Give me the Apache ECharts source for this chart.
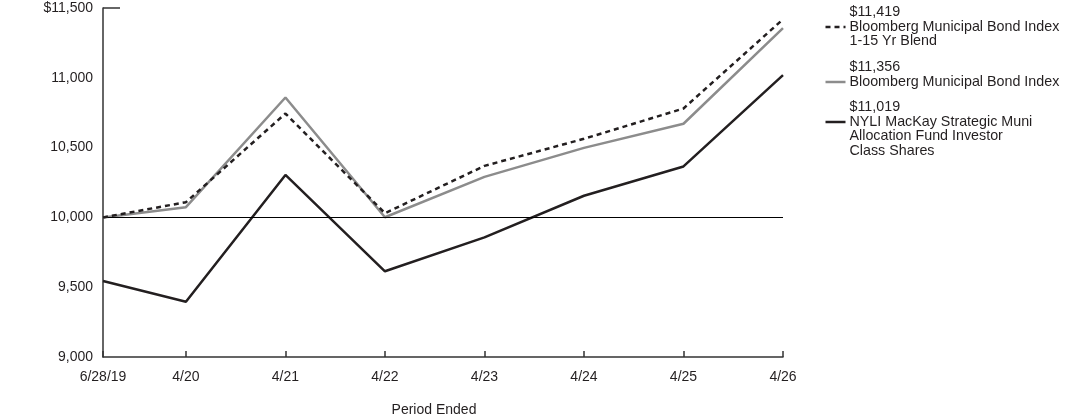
<!DOCTYPE html>
<html>
<head>
<meta charset="utf-8">
<script src="https://cdn.jsdelivr.net/npm/echarts@6/dist/echarts.min.js"></script>
<style>
  html, body { margin: 0; padding: 0; background: #fff; }
  #main { width: 1092px; height: 417px; }
</style>
</head>
<body>
<div id="main"></div>
<script>
// months since 6/28/19 for each period end
const months = [0, 10, 22, 34, 46, 58, 70, 82];
const tickLabels = ["6/28/19", "4/20", "4/21", "4/22", "4/23", "4/24", "4/25", "4/26"];

const blendValues = [10000, 10109, 10744, 10030, 10369, 10563, 10780, 11419];
const muniValues = [10000, 10073, 10859, 10001, 10290, 10498, 10671, 11356];
const fundValues = [9545, 9396, 10304, 9614, 9857, 10155, 10365, 11019];

const names = [
  "Bloomberg Municipal Bond Index\n1-15 Yr Blend",
  "Bloomberg Municipal Bond Index",
  "NYLI MacKay Strategic Muni\nAllocation Fund Investor\nClass Shares",
];
const endValues = ["$11,419", "$11,356", "$11,019"];

const chart = echarts.init(document.getElementById("main"));
const font = "Liberation Sans, Arial, sans-serif";
const txt = "#231f20";

function pairs(vals) {
  return vals.map((v, i) => [months[i], v]);
}

// legend drawn by hand so the swatch sits on the first name line
function legendItem(top, dashed, color, value, name) {
  return {
    type: "group",
    left: 823,
    top: top,
    children: [
      {
        type: "line",
        shape: { x1: 0, y1: 22, x2: 20, y2: 22 },
        style: { stroke: color, lineWidth: 2.5, lineDash: dashed ? [5, 4] : null },
      },
      {
        type: "text",
        left: 24,
        top: 0,
        style: {
          text: value + "\n" + name,
          font: "14.3px " + font,
          fill: txt,
          lineHeight: 14.5,
        },
      },
    ],
  };
}

const option = {
  animation: false,
  grid: { left: 103, right: 309, top: 8, bottom: 60, outerBoundsMode: "none", containLabel: false },
  xAxis: {
    type: "value",
    min: 0,
    max: 82,
    name: "Period Ended",
    nameLocation: "middle",
    nameGap: 46,
    nameTextStyle: { color: txt, fontSize: 14, fontFamily: font, padding: [0, 18, 0, 0] },
    axisLine: { lineStyle: { color: "#333", width: 1.5 } },
    axisTick: { inside: true, length: 6, customValues: months, lineStyle: { color: "#333", width: 1.5 } },
    axisLabel: {
      customValues: months,
      color: txt,
      fontSize: 14,
      fontFamily: font,
      margin: 13,
      formatter: (v) => tickLabels[months.indexOf(v)],
    },
    splitLine: { show: false },
  },
  yAxis: {
    type: "value",
    min: 9000,
    max: 11500,
    interval: 500,
    axisLine: { show: true, lineStyle: { color: "#333", width: 1.5 } },
    axisTick: { show: false },
    axisLabel: {
      color: txt,
      fontSize: 14,
      fontFamily: font,
      margin: 10,
      formatter: (v) => (v === 11500 ? "$" : "") + v.toLocaleString("en-US"),
    },
    splitLine: { show: false },
  },
  graphic: [
    {
      type: "line",
      shape: { x1: 103, y1: 8, x2: 120, y2: 8 },
      style: { stroke: "#333", lineWidth: 1.5 },
    },
    legendItem(5, true, "#231f20", endValues[0], names[0]),
    legendItem(60, false, "#8c8c8c", endValues[1], names[1]),
    legendItem(100, false, "#231f20", endValues[2], names[2]),
  ],
  series: [
    {
      name: "fund",
      type: "line",
      data: pairs(fundValues),
      symbol: "none",
      lineStyle: { color: "#231f20", width: 2.5 },
      z: 3,
      markLine: {
        silent: true,
        symbol: "none",
        label: { show: false },
        lineStyle: { color: "#000", width: 1, type: "solid" },
        data: [{ yAxis: 10000 }],
      },
    },
    {
      name: "muni",
      type: "line",
      data: pairs(muniValues),
      symbol: "none",
      lineStyle: { color: "#8c8c8c", width: 2.5 },
      z: 4,
    },
    {
      name: "blend",
      type: "line",
      data: pairs(blendValues),
      symbol: "none",
      lineStyle: { color: "#231f20", width: 2.5, type: [5, 4] },
      z: 5,
    },
  ],
};

chart.setOption(option);
</script>
</body>
</html>
